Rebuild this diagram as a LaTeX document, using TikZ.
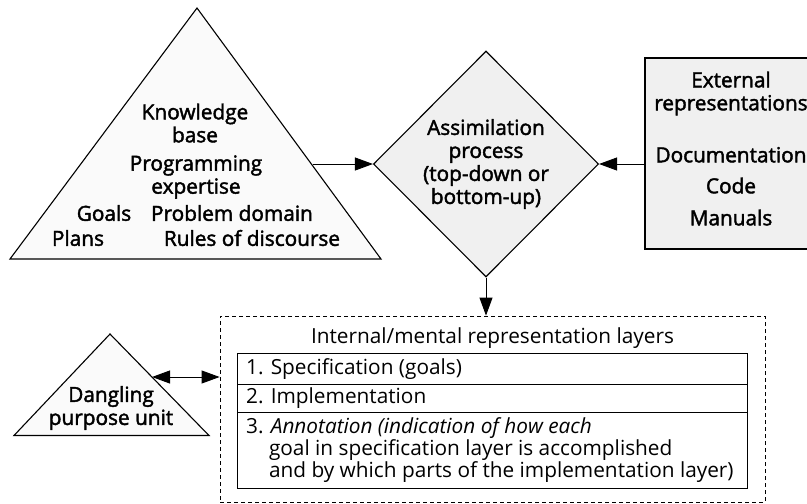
\documentclass[tikz,border=0pt]{standalone}
\usepackage{fontspec}
\setmainfont{Open Sans}
\newfontfamily\labelfont[FakeBold=2]{Open Sans}
\usetikzlibrary{shapes.geometric,arrows.meta}

\begin{document}
\begin{tikzpicture}[x=1pt,y=-1pt,
  outline/.style={draw=black, line width=1.1pt},
  arr/.style={line width=0.9pt, -{Triangle[length=18pt,width=13pt]}},
  lbl/.style={font=\labelfont\fontsize{20.8}{23}\selectfont, align=center, inner sep=0pt},
  plain/.style={font=\fontsize{20.8}{22}\selectfont, inner sep=0pt},
  rowtext/.style={plain, align=left, anchor=west},
  rowbox/.style={draw=black, line width=0.8pt, minimum width=510pt, inner sep=0pt},
]
\useasboundingbox (0,0) rectangle (807,504);

% knowledge base pyramid
\draw[outline, fill=black!2] (197,8) coordinate (kbtop) -- (381,259) coordinate (kbright)
  -- (10,259) coordinate (kbleft) -- cycle;
\coordinate (kbout) at (313,164);
\node[lbl] (kb) at (195,123) {Knowledge\\base};
\node[lbl] (prog) at (196,177) {Programming\\expertise};
\node[lbl] (goals) at (104,213) {Goals};
\node[lbl] (domain) at (232,213) {Problem domain};
\node[lbl] (plans) at (78,238) {Plans};
\node[lbl] (rules) at (252,238) {Rules of discourse};

% assimilation process
\node[diamond, aspect=1, outline, fill=black!6, minimum width=225pt, minimum height=226pt,
  lbl] (assim) at (486,164) {Assimilation\\process\\(top-down or\\bottom-up)};

% external representations
\node[draw=black, line width=1.1pt, fill=black!6, minimum width=172pt, minimum height=191pt,
  inner sep=0pt] (ext) at (731,153.5) {};
\node[lbl] (extlbl) at (731,148.5) {External\\representations\\[29pt]Documentation\\[8pt]Code\\[9pt]Manuals};

\draw[arr] (kbout) -- (assim.west);
\draw[arr] (ext.west |- assim.east) -- (assim.east);

% internal / mental representation layers
\node[draw=black, line width=0.8pt, dash pattern=on 4pt off 3pt, minimum width=545pt,
  minimum height=186pt, inner sep=0pt] (layers) at (492.5,409) {};
\draw[arr] (assim.south) -- (assim.south |- layers.north);
\node[plain] (ltitle) at (492.5,338) {Internal/mental representation layers};

\node[rowbox, minimum height=31pt] (r1) at (492,368.5) {};
\node[rowbox, minimum height=28.5pt] (r2) at (492,398.25) {};
\node[rowbox, minimum height=75.5pt] (r3) at (492,450.25) {};
\node[rowtext] (t1) at (246,369) {1. Specification (goals)};
\node[rowtext] (t2) at (246,398.5) {2. Implementation};
\node[rowtext] (t3) at (246,450) {3. \textit{Annotation (indication of how each}\\
  \phantom{3.}\ goal in specification layer is accomplished\\
  \phantom{3.}\ and by which parts of the implementation layer)};

% dangling purpose unit
\draw[outline, fill=black!2] (110,334) coordinate (dptop) -- (209,435.5) coordinate (dpright)
  -- (14,435.5) coordinate (dpleft) -- cycle;
\node[lbl] (dpu) at (111,408) {Dangling\\purpose unit};
\coordinate (dpout) at (152,377);
\draw[line width=0.9pt, {Triangle[length=18pt,width=13pt]}-{Triangle[length=18pt,width=13pt]}]
  (dpout) -- (dpout -| layers.west);
\end{tikzpicture}
\end{document}
